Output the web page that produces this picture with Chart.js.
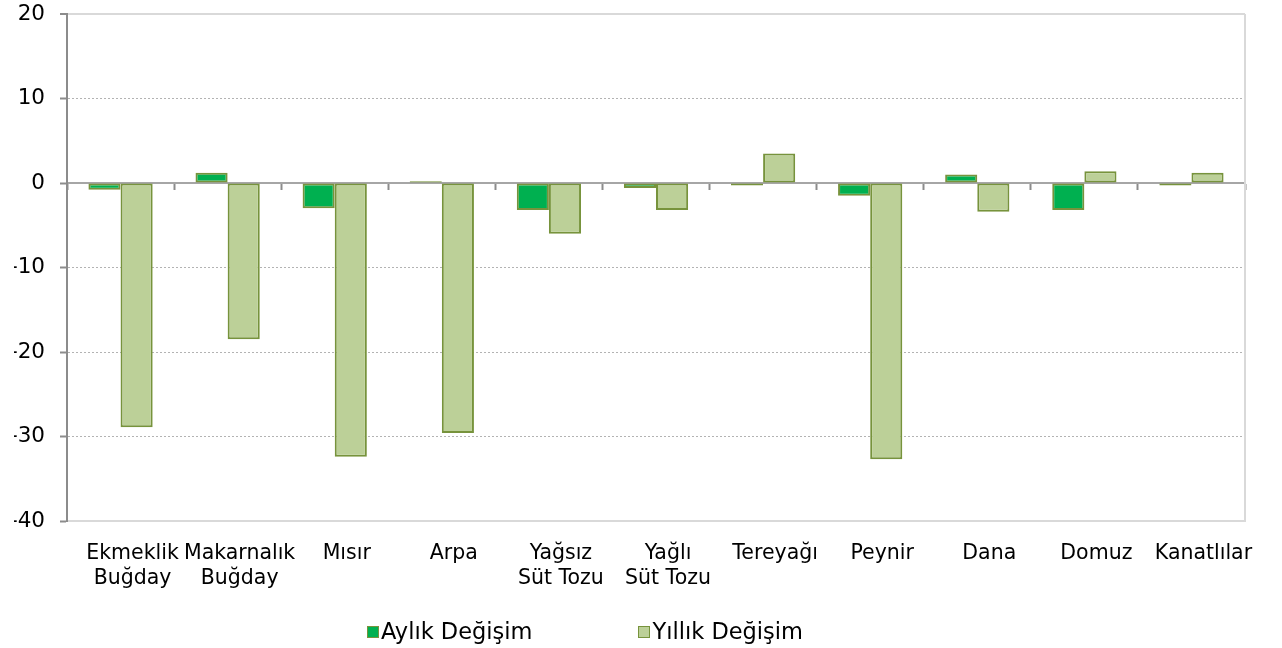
<!DOCTYPE html>
<html>
<head>
<meta charset="utf-8">
<script src="https://cdn.jsdelivr.net/npm/chart.js@4"></script>
<style>
  body { margin: 0; background: #fff; }
  #wrap { position: relative; width: 1282px; height: 648px; }
  #legend {
    position: absolute; left: 367px; top: 618px;
    font-family: "DejaVu Sans", Verdana, sans-serif; font-size: 22.5px; color: #000;
    white-space: nowrap;
  }
  #legend span.item { display: inline-block; }
  #legend span.item + span.item { margin-left: 106px; }
  #legend span.box {
    display: inline-block; width: 10px; height: 10px; margin-right: 2px;
    border: 1px solid #77933C; vertical-align: 1px;
  }
</style>
</head>
<body>
<div id="wrap">
  <canvas id="chart"></canvas>
  <div id="legend"></div>
</div>
<script>
// --- DATA ---
const categories = [
  ['Ekmeklik', 'Buğday'], ['Makarnalık', 'Buğday'], 'Mısır', 'Arpa',
  ['Yağsız', 'Süt Tozu'], ['Yağlı', 'Süt Tozu'], 'Tereyağı', 'Peynir',
  'Dana', 'Domuz', 'Kanatlılar'
];
const monthlyChange = [-0.8, 1.2, -3.0, 0.2, -3.2, -0.6, -0.3, -1.5, 1.0, -3.2, -0.3];
const yearlyChange = [-28.9, -18.5, -32.4, -29.6, -6.0, -3.2, 3.5, -32.7, -3.4, 1.4, 1.2];
const seriesNames = ['Aylık Değişim', 'Yıllık Değişim'];
const yTicks = { min: -40, max: 20, step: 10 };

const fontFamily = '"DejaVu Sans", Verdana, sans-serif';
const lightBorder = '#d9d9d9';
const axisGray = '#8c8c8c';

// right edge of the plot frame
const frameEdge = {
  id: 'frameEdge',
  beforeDatasetsDraw(chart) {
    const { ctx, chartArea } = chart;
    ctx.save();
    ctx.strokeStyle = lightBorder;
    ctx.lineWidth = 2;
    ctx.beginPath();
    ctx.moveTo(chartArea.right, chartArea.top);
    ctx.lineTo(chartArea.right, chartArea.bottom);
    ctx.stroke();
    ctx.restore();
  }
};

const ctx = document.getElementById('chart').getContext('2d');
const chart = new Chart(ctx, {
  type: 'bar',
  data: {
    labels: categories,
    datasets: [{
      label: seriesNames[0],
      data: monthlyChange,
      backgroundColor: '#00B050',
      borderColor: '#77933C',
      borderWidth: 2,
      borderSkipped: false,
      categoryPercentage: 0.6,
      barPercentage: 1.0
    }, {
      label: seriesNames[1],
      data: yearlyChange,
      backgroundColor: '#BCD098',
      borderColor: '#77933C',
      borderWidth: 2,
      borderSkipped: false,
      categoryPercentage: 0.6,
      barPercentage: 1.0
    }]
  },
  options: {
    responsive: true,
    maintainAspectRatio: false,
    animation: false,
    layout: { padding: { left: 14, right: 37, top: 14, bottom: 60 } },
    plugins: {
      legend: { display: false },
      tooltip: { enabled: false }
    },
    scales: {
      x: {
        grid: { display: false, drawTicks: false },
        border: { color: lightBorder, width: 2 },
        afterFit: s => { s.height = 67; s.paddingLeft = 0; s.paddingRight = 0; },
        ticks: {
          color: '#000',
          font: { family: fontFamily, size: 20.5, lineHeight: 1.22 },
          padding: 20,
          labelOffset: 12,
          maxRotation: 0,
          autoSkip: false
        }
      },
      xZero: {
        type: 'category',
        position: { y: 0 },
        z: 1,
        grid: {
          drawOnChartArea: false,
          offset: true,
          tickLength: 6,
          tickWidth: 2,
          tickColor: axisGray
        },
        border: { color: '#a6a6a6', width: 2 },
        ticks: { display: false }
      },
      y: {
        min: yTicks.min,
        max: yTicks.max,
        afterFit: s => { s.width = 53; s.paddingTop = 0; s.paddingBottom = 0; },
        ticks: {
          stepSize: yTicks.step,
          color: '#000',
          font: { family: fontFamily, size: 21.5 },
          padding: 15
        },
        grid: {
          color: c => {
            const v = c.tick ? c.tick.value : null;
            if (v === yTicks.max) return lightBorder;
            if (v === yTicks.min || v === 0) return 'rgba(0,0,0,0)';
            return '#b3b3b3';
          },
          lineWidth: c => (c.tick && c.tick.value === yTicks.max) ? 2 : 1,
          tickLength: 7,
          tickWidth: 2,
          tickColor: axisGray
        },
        border: {
          color: axisGray,
          width: 2,
          dash: c => {
            const v = c.tick ? c.tick.value : null;
            if (v === null || v === yTicks.max) return [];
            return [2, 2];
          }
        }
      }
    }
  },
  plugins: [frameEdge]
});

// --- LEGEND ---
const legendEl = document.getElementById('legend');
chart.data.datasets.forEach(ds => {
  const item = document.createElement('span');
  item.className = 'item';
  const box = document.createElement('span');
  box.className = 'box';
  box.style.background = ds.backgroundColor;
  item.appendChild(box);
  item.appendChild(document.createTextNode(ds.label));
  legendEl.appendChild(item);
});
</script>
</body>
</html>
